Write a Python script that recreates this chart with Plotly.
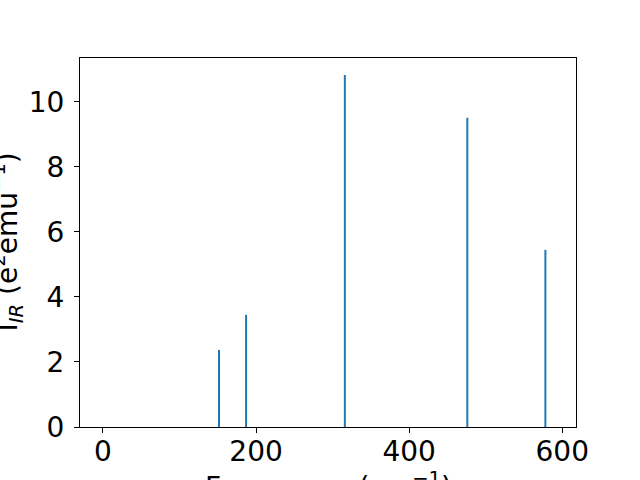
import plotly.graph_objects as go

freqs = [151.6, 187.0, 316.0, 476.0, 578.0]
intensities = [2.37, 3.45, 10.83, 9.51, 5.45]
x_ticks = [0, 200, 400, 600]
y_ticks = [0, 2, 4, 6, 8, 10]

xs, ys = [], []
for f, v in zip(freqs, intensities):
    xs += [f, f, None]
    ys += [0, v, None]

fig = go.Figure()
fig.add_trace(go.Scatter(x=xs, y=ys, mode="lines",
                         line=dict(color="#1f77b4", width=2), showlegend=False,
                         hoverinfo="skip"))

font = dict(family="DejaVu Sans", size=28, color="black")
L, R, T, B = 80, 576, 58, 427
W = R - L
H = B - T

fig.update_layout(
    width=640, height=480,
    margin=dict(l=L, r=640 - R, t=T, b=480 - B, autoexpand=False),
    paper_bgcolor="white", plot_bgcolor="white",
    font=font,
    xaxis=dict(range=[-30, 618], tickvals=x_ticks, ticks="outside", ticklen=5,
               tickwidth=1, tickcolor="black", showgrid=False, zeroline=False,
               showline=True, linecolor="black", linewidth=1, mirror=True,
               tickfont=font, automargin=False, ticklabelstandoff=-6),
    yaxis=dict(range=[0, 11.35], tickvals=y_ticks, ticks="outside", ticklen=5,
               tickwidth=1, tickcolor="black", showgrid=False, zeroline=False,
               showline=True, linecolor="black", linewidth=1, mirror=True,
               tickfont=font, automargin=False, ticklabelstandoff=4),
    annotations=[
        dict(text="I<sub><i>IR</i></sub> (e<sup>2</sup>emu<sup>\u22121</sup>)", textangle=-90,
             xref="paper", yref="paper", x=(8 - L) / W, y=0.5,
             xanchor="center", yanchor="middle", showarrow=False, font=font),
        dict(text="Frequency (cm<sup>\u22121</sup>)",
             xref="paper", yref="paper", x=0.5, y=-(485 - B) / H,
             xanchor="center", yanchor="middle", showarrow=False, font=font),
    ],
)

fig.write_html("out.html", config={"displayModeBar": False},
               post_script="document.body.style.margin='0';")
